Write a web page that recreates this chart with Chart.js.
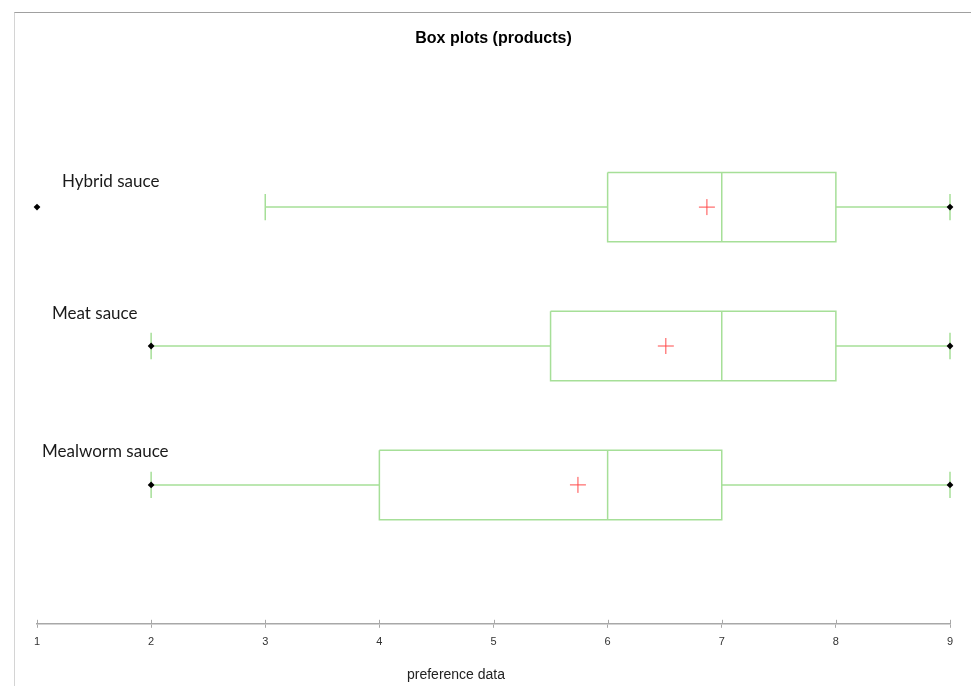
<!DOCTYPE html>
<html>
<head>
<meta charset="utf-8">
<script src="https://cdn.jsdelivr.net/npm/chart.js@4.4.1/dist/chart.umd.min.js"></script>
<style>
    html, body { margin: 0; padding: 0; background: #fff; }
    #wrap { position: relative; width: 971px; height: 686px; }
    #frame {
        position: absolute; left: 14px; top: 12px; right: 0; bottom: 0;
        border-top: 1px solid #a0a0a0; border-left: 1px solid #d4d4d4;
        pointer-events: none;
    }
</style>
</head>
<body>
<div id="wrap">
    <canvas id="boxChart" width="971" height="686"></canvas>
    <div id="frame"></div>
</div>
<script>
// Du lieu box plot (doc tu hinh)
const categories = ['Hybrid sauce', 'Meat sauce', 'Mealworm sauce'];
const minValues = [1, 2, 2];
const maxValues = [9, 9, 9];
const whiskerLow = [3, 2, 2];
const whiskerHigh = [9, 9, 9];
const q1Values = [6, 5.5, 4];
const medianValues = [7, 7, 6];
const q3Values = [8, 8, 7];
const meanValues = [6.87, 6.51, 5.74];
const tickLabels = ['1', '2', '3', '4', '5', '6', '7', '8', '9'];

const BOX_HALF = 0.25;   // nua chieu cao hop (don vi truc y)
const CAP_HALF = 0.095;  // nua chieu cao vach ria

// Gom tat ca doan thang mau xanh vao mot dataset, ngat bang diem null
function boxLines() {
    const pts = [];
    const gap = (x) => pts.push({ x: x, y: null });
    categories.forEach((c, i) => {
        const y = i + 1;
        pts.push({ x: whiskerLow[i], y: y }, { x: q1Values[i], y: y }); gap(q1Values[i]);
        pts.push({ x: q3Values[i], y: y }, { x: whiskerHigh[i], y: y }); gap(whiskerHigh[i]);
        pts.push({ x: whiskerLow[i], y: y - CAP_HALF }, { x: whiskerLow[i], y: y + CAP_HALF }); gap(whiskerLow[i]);
        pts.push({ x: whiskerHigh[i], y: y - CAP_HALF }, { x: whiskerHigh[i], y: y + CAP_HALF }); gap(whiskerHigh[i]);
        pts.push(
            { x: q1Values[i], y: y - BOX_HALF }, { x: q3Values[i], y: y - BOX_HALF },
            { x: q3Values[i], y: y + BOX_HALF }, { x: q1Values[i], y: y + BOX_HALF },
            { x: q1Values[i], y: y - BOX_HALF }
        );
        gap(q1Values[i]);
        pts.push({ x: medianValues[i], y: y - BOX_HALF }, { x: medianValues[i], y: y + BOX_HALF }); gap(medianValues[i]);
    });
    return pts;
}

const meanPoints = meanValues.map((v, i) => ({ x: v, y: i + 1 }));
const extremePoints = [];
categories.forEach((c, i) => {
    extremePoints.push({ x: minValues[i], y: i + 1 });
    extremePoints.push({ x: maxValues[i], y: i + 1 });
});

// Ve nhan nhom, ten truc x va vach chia phia tren truc
const decorPlugin = {
    id: 'decor',
    afterDraw(chart, args, opts) {
        const ctx = chart.ctx;
        const xs = chart.scales.x;
        const ys = chart.scales.y;
        const area = chart.chartArea;
        ctx.save();
        // vach chia cat qua truc
        ctx.strokeStyle = '#a8a8a8';
        ctx.lineWidth = 1;
        tickLabels.forEach((t, i) => {
            const px = Math.round(xs.getPixelForValue(i + 1)) + 0.5;
            ctx.beginPath();
            ctx.moveTo(px, area.bottom - 4);
            ctx.lineTo(px, area.bottom);
            ctx.stroke();
        });
        // nhan nhom
        ctx.fillStyle = '#1a1a1a';
        ctx.font = opts.labelFont;
        ctx.textAlign = 'left';
        ctx.textBaseline = 'middle';
        categories.forEach((c, i) => {
            ctx.fillText(c, opts.labelX[i], ys.getPixelForValue(i + 1) + opts.labelDy[i]);
        });
        // ten truc x
        ctx.fillStyle = '#222';
        ctx.font = opts.axisFont;
        ctx.textAlign = 'center';
        ctx.fillText('preference data', opts.axisTitleX, opts.axisTitleY);
        ctx.restore();
    }
};

const chart = new Chart(document.getElementById('boxChart'), {
    type: 'scatter',
    data: {
        datasets: [
            {
                label: 'box',
                data: boxLines(),
                showLine: true,
                spanGaps: false,
                borderColor: '#a6df98',
                borderWidth: 1.5,
                pointRadius: 0,
                clip: false,
                order: 3
            },
            {
                label: 'mean',
                data: meanPoints,
                pointStyle: 'cross',
                pointRadius: 8,
                borderColor: '#ff4a4a',
                borderWidth: 1,
                backgroundColor: '#ff4a4a',
                clip: false,
                order: 2
            },
            {
                label: 'min/max',
                data: extremePoints,
                pointStyle: 'rectRot',
                pointRadius: 3.4,
                borderWidth: 0,
                backgroundColor: '#000',
                borderColor: '#000',
                clip: false,
                order: 1
            }
        ]
    },
    options: {
        responsive: false,
        animation: false,
        layout: { padding: { left: 37, right: 21, top: 0, bottom: 29 } },
        plugins: {
            legend: { display: false },
            tooltip: { enabled: false },
            title: {
                display: true,
                text: 'Box plots (products)',
                color: '#000',
                font: { family: 'Arial, "Liberation Sans", sans-serif', size: 16, weight: 'bold' },
                padding: { top: 29, bottom: 20 }
            },
            decor: {
                labelFont: '17px Lato, "Open Sans", sans-serif',
                labelX: [62, 52, 42],
                labelDy: [-26, -32, -33],
                axisFont: '14px Arial, "Liberation Sans", sans-serif',
                axisTitleX: 456,
                axisTitleY: 675
            }
        },
        scales: {
            x: {
                type: 'linear',
                min: 1,
                max: 9,
                afterBuildTicks: (scale) => {
                    scale.ticks = tickLabels.map((t, i) => ({ value: i + 1 }));
                },
                ticks: {
                    callback: (v, i) => tickLabels[i],
                    color: '#333',
                    padding: 8,
                    font: { family: 'Arial, "Liberation Sans", sans-serif', size: 11 }
                },
                grid: { drawOnChartArea: false, drawTicks: true, tickLength: 4, color: '#a8a8a8' },
                border: { display: true, color: '#a8a8a8', width: 1.5 }
            },
            y: {
                type: 'linear',
                display: false,
                reverse: true,
                min: 0,
                max: 4
            }
        }
    },
    plugins: [decorPlugin]
});
</script>
</body>
</html>
